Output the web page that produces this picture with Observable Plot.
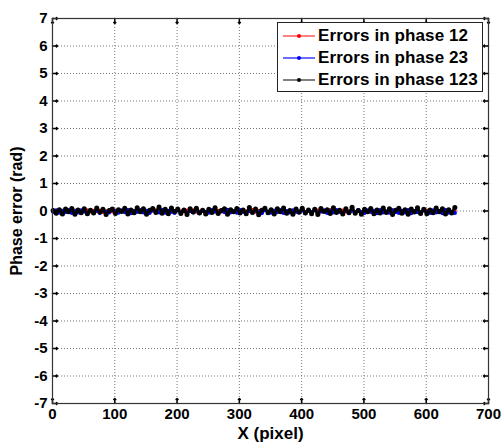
<!DOCTYPE html>
<html>
<head>
<meta charset="utf-8">
<script src="https://cdn.jsdelivr.net/npm/d3@7"></script>
<script src="https://cdn.jsdelivr.net/npm/@observablehq/plot@0.6"></script>
<style>
  body { margin: 0; background: #fff; }
  #wrap { position: relative; width: 502px; height: 445px; font-family: "Liberation Sans", Arial, sans-serif; }
  #legend { position: absolute; left: 277px; top: 22px; width: 206px; height: 70px; border: 1px solid #222; background: #fff; padding-top: 2px; box-sizing: border-box; }
  .row { display: flex; align-items: center; height: 22px; }
  .sw { position: relative; width: 32px; height: 2px; margin-left: 5px; margin-right: 3px; }
  .sw i { position: absolute; left: 14px; top: -1px; width: 4px; height: 4px; border-radius: 2px; }
  .lt { font-weight: bold; font-size: 17px; color: #000; letter-spacing: 0.1px; }
</style>
</head>
<body>
<div id="wrap">
  <div id="chart"></div>
  <div id="legend"></div>
</div>
<script>
const xStart = 1, xStep = 5;
const errors123 = [
  0.02,-0.08,0.05,-0.11,0.07,-0.03,0.09,-0.12,0.04,-0.06,
  0.08,-0.10,0.03,-0.07,0.11,-0.04,0.06,-0.13,0.02,0.07,
  -0.09,0.05,-0.02,0.10,-0.11,0.04,-0.06,0.12,-0.03,0.08,
  -0.12,0.03,0.09,-0.05,0.15,-0.08,0.06,-0.10,0.11,-0.02,
  0.07,-0.09,0.04,-0.13,0.08,-0.04,0.10,-0.07,0.03,-0.11,
  0.06,-0.05,0.12,-0.09,0.02,0.08,-0.12,0.05,-0.03,0.09,
  -0.07,0.04,-0.10,0.13,-0.05,0.07,-0.14,0.03,0.10,-0.06,
  0.05,-0.11,0.08,-0.03,0.11,-0.08,0.02,-0.12,0.07,-0.04,
  0.10,-0.07,0.04,-0.10,0.06,-0.13,0.09,-0.02,0.05,-0.09,
  0.12,-0.05,0.03,-0.11,0.08,-0.06,0.14,-0.08,0.02,-0.12,
  0.06,-0.03,0.09,-0.10,0.04,-0.07,0.11,-0.05,0.08,-0.13,
  0.03,0.10,-0.08,0.05,-0.12,0.07,-0.04,0.12,-0.09,0.06,
  -0.10,0.04,-0.06,0.11,-0.03,0.08,-0.11,0.05,-0.07,0.13
];
const errors23 = [
  -0.03,0.02,-0.06,0.01,-0.04,0.03,-0.07,0.00,-0.05,0.02,
  -0.02,-0.06,0.03,-0.04,0.01,-0.07,0.02,-0.03,-0.05,0.04,
  -0.01,-0.06,0.02,-0.04,0.03,-0.08,0.00,-0.03,0.02,-0.05,
  0.01,-0.07,0.03,-0.02,-0.05,0.04,-0.06,0.01,-0.03,-0.07,
  0.02,-0.04,0.03,-0.06,0.00,-0.05,0.02,-0.08,0.01,-0.03,
  -0.06,0.03,-0.02,-0.07,0.02,-0.04,0.04,-0.05,-0.01,-0.06,
  0.03,-0.03,-0.07,0.01,-0.05,0.02,-0.04,-0.08,0.03,-0.02,
  -0.06,0.01,-0.04,0.03,-0.07,0.00,-0.05,0.02,-0.03,-0.06,
  0.02,-0.08,0.01,-0.04,0.03,-0.06,-0.02,0.02,-0.07,0.01,
  -0.05,0.03,-0.03,-0.08,0.02,-0.05,0.01,-0.06,0.03,-0.04,
  -0.07,0.02,-0.03,0.01,-0.08,0.03,-0.05,-0.02,-0.06,0.02,
  -0.04,-0.07,0.01,-0.05,0.03,-0.08,0.00,-0.04,-0.06,0.02,
  -0.03,-0.07,0.02,-0.05,-0.01,-0.08,0.03,-0.06,-0.03,-0.07
];
const errors12 = [
  0.01,-0.03,0.02,-0.02,0.04,-0.04,0.01,0.03,-0.03,0.02,
  -0.01,0.04,-0.04,0.02,-0.02,0.03,-0.05,0.01,0.02,-0.03,
  0.03,-0.02,0.01,-0.04,0.04,-0.01,0.02,-0.03,0.05,-0.02,
  -0.03,0.02,-0.01,0.04,-0.04,0.01,0.03,-0.02,0.02,-0.05,
  0.02,0.01,-0.03,0.03,-0.02,0.04,-0.04,0.00,0.03,-0.03,
  -0.02,0.04,-0.01,0.02,-0.04,0.03,-0.02,0.01,-0.05,0.02,
  0.03,-0.03,0.01,-0.02,0.05,-0.04,0.02,-0.01,0.03,-0.03,
  -0.04,0.02,0.03,-0.02,0.01,-0.05,0.04,-0.01,0.02,-0.03,
  0.01,-0.02,0.04,-0.04,0.02,0.03,-0.03,0.01,-0.02,0.05,
  -0.03,0.02,-0.01,0.03,-0.04,0.01,0.02,-0.05,0.03,-0.02,
  0.04,-0.03,0.01,-0.02,0.03,-0.04,0.02,0.00,-0.03,0.04,
  -0.02,0.01,-0.04,0.03,-0.01,0.02,-0.05,0.04,-0.02,0.01,
  0.03,-0.03,0.02,-0.04,0.01,0.03,-0.02,0.04,-0.03,0.02
];
const seriesNames = ["Errors in phase 12", "Errors in phase 23", "Errors in phase 123"];
const seriesColors = ["#ff0000", "#0000ff", "#000000"];
const legendColors = ["#ff8080", "#6b6bff", "#808080"];
const xTicks = [0, 100, 200, 300, 400, 500, 600, 700];
const yTicks = [-7, -6, -5, -4, -3, -2, -1, 0, 1, 2, 3, 4, 5, 6, 7];

const seriesValues = [errors12, errors23, errors123];
const seriesData = seriesValues.map((vals, s) => vals.map((v, i) => ({series: seriesNames[s], x: xStart + i * xStep, y: v})));
const lineWidths = [1.5, 2.4, 2.8];
const dotRadii = [1.6, 2.1, 2.5];

const font = "'Liberation Sans', Arial, sans-serif";
const seriesMarks = seriesData.flatMap((d, s) => [
  Plot.line(d, {x: "x", y: "y", stroke: seriesColors[s], strokeWidth: lineWidths[s]}),
  Plot.dot(d, {x: "x", y: "y", fill: seriesColors[s], r: dotRadii[s]})
]);

const chart = Plot.plot({
  width: 502, height: 445,
  marginLeft: 52, marginRight: 14, marginTop: 18, marginBottom: 42,
  style: {fontFamily: font, fontSize: "15px", fontWeight: "bold", background: "#fff", color: "#000"},
  x: {domain: [0, 700]},
  y: {domain: [-7, 7]},
  marks: [
    Plot.gridX(xTicks, {stroke: "#777", strokeOpacity: 1, strokeDasharray: "1,2"}),
    Plot.gridY(yTicks, {stroke: "#777", strokeOpacity: 1, strokeDasharray: "1,2"}),
    ...seriesMarks,
    Plot.vector(xTicks, {x: d => d, y: -7, length: 5, rotate: 0, anchor: "start", stroke: "#000"}),
    Plot.vector(xTicks, {x: d => d, y: 7, length: 5, rotate: 180, anchor: "start", stroke: "#000"}),
    Plot.vector(yTicks, {x: 0, y: d => d, length: 5, rotate: 90, anchor: "start", stroke: "#000"}),
    Plot.vector(yTicks, {x: 700, y: d => d, length: 5, rotate: -90, anchor: "start", stroke: "#000"}),
    Plot.frame({stroke: "#333", strokeWidth: 1.2}),
    Plot.axisX(xTicks, {tickSize: 0, tickPadding: 5, tickFormat: d => String(d), label: null, fontSize: 15}),
    Plot.axisX({ticks: [], tickSize: 0, label: "X (pixel)", labelAnchor: "center", labelArrow: "none", labelOffset: 35, fontSize: 17}),
    Plot.axisY(yTicks, {tickSize: 0, tickPadding: 5, tickFormat: d => String(d), label: null, fontSize: 15}),
    Plot.axisY({ticks: [], tickSize: 0, label: "Phase error (rad)", labelAnchor: "center", labelArrow: "none", labelOffset: 42, fontSize: 16})
  ]
});
document.getElementById("chart").appendChild(chart);

const legend = document.getElementById("legend");
seriesNames.forEach((name, i) => {
  const row = document.createElement("div");
  row.className = "row";
  const sw = document.createElement("span");
  sw.className = "sw";
  sw.style.background = legendColors[i];
  const dot = document.createElement("i");
  dot.style.background = seriesColors[i];
  sw.appendChild(dot);
  const t = document.createElement("span");
  t.className = "lt";
  t.textContent = name;
  row.appendChild(sw);
  row.appendChild(t);
  legend.appendChild(row);
});
</script>
</body>
</html>
